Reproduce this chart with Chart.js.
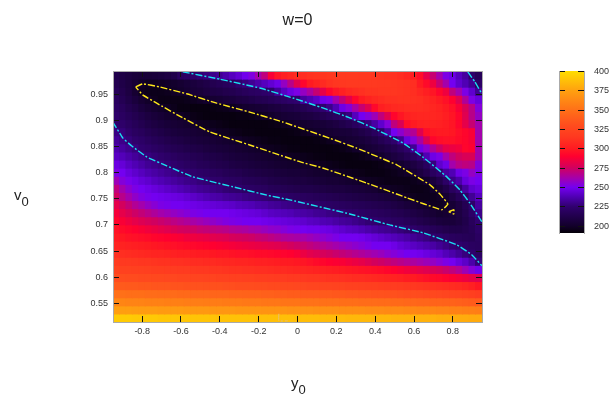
<!DOCTYPE html>
<html>
<head>
<meta charset="utf-8">
<style>
  html, body { margin: 0; padding: 0; background: #fff; }
  #wrap { position: relative; width: 610px; height: 399px; overflow: hidden; font-family: "Liberation Sans", Arial, sans-serif; color: #222; }
  #main { position: absolute; left: 0; top: 0; }
  #bar { position: absolute; left: 540px; top: 60px; }
  .axis-name { position: absolute; font-size: 15px; line-height: 16px; }
  .axis-name span { font-size: 13px; vertical-align: -6px; line-height: 0; }
</style>
<script src="https://cdn.jsdelivr.net/npm/chart.js@4"></script>
</head>
<body>
<div id="wrap">
  <canvas id="main" width="610" height="399"></canvas>
  <canvas id="bar" width="70" height="185"></canvas>
  <div class="axis-name" style="left:14px;top:187px">v<span>0</span></div>
  <div class="axis-name" style="left:291px;top:375px">y<span>0</span></div>
</div>
<script>
const y0Grid = [-0.9333,-0.9,-0.8667,-0.8333,-0.8,-0.7667,-0.7333,-0.7,-0.6667,-0.6333,
  -0.6,-0.5667,-0.5333,-0.5,-0.4667,-0.4333,-0.4,-0.3667,-0.3333,-0.3,
  -0.2667,-0.2333,-0.2,-0.1667,-0.1333,-0.1,-0.0667,-0.0333,0,0.0333,
  0.0667,0.1,0.1333,0.1667,0.2,0.2333,0.2667,0.3,0.3333,0.3667,
  0.4,0.4333,0.4667,0.5,0.5333,0.5667,0.6,0.6333,0.6667,0.7,
  0.7333,0.7667,0.8,0.8333,0.8667,0.9,0.9333];
const v0Grid = [0.9869,0.9714,0.9559,0.9404,0.9249,0.9094,0.8939,0.8784,0.8629,0.8474,
  0.8319,0.8164,0.8009,0.7854,0.7699,0.7544,0.7389,0.7234,0.7079,0.6924,
  0.6769,0.6614,0.6459,0.6304,0.6149,0.5994,0.5839,0.5684,0.5529,0.5374,0.5219];
const y0Ticks = [-0.8,-0.6,-0.4,-0.2,0,0.2,0.4,0.6,0.8];
const v0Ticks = [0.55,0.6,0.65,0.7,0.75,0.8,0.85,0.9,0.95];
const barTicks = [200,225,250,275,300,325,350,375,400];

// one row per v0, top to bottom, one value per y0, left to right
const costRows = [
  [212,210,208,206,205,205,206,207,209,212, 219,221,223,226,228,230,232,236,240,244, 249,253,262,270,288,298,303,306,309,310, 312,313,314,315,316,316,316,316,315,315, 314,313,312,311,309,306,302,295,282,272, 262,252,248,240,234,223,217],
  [214,211,208,204,200,198,198,199,200,201, 203,205,207,209,211,214,216,218,220,225, 228,232,236,240,244,248,258,268,280,292, 300,304,308,312,314,315,316,316,316,316, 316,315,315,314,313,312,310,300,294,285, 272,262,250,243,238,232,222],
  [217,213,209,203,198,196,196,196,197,199, 201,203,205,206,208,210,211,213,214,216, 218,220,221,223,225,233,241,247,252,258, 264,272,282,292,298,303,307,309,311,313, 313,314,314,314,313,312,310,306,302,298, 292,285,270,262,252,243,232],
  [219,215,211,207,203,200,197,195,195,195, 195,196,197,199,201,203,204,206,207,209, 210,212,214,215,217,219,221,223,225,234, 238,242,249,252,262,271,281,292,300,304, 307,309,311,311,312,312,311,310,307,304, 300,296,290,280,265,252,246],
  [221,218,214,211,207,204,202,200,198,196, 194,194,193,193,193,194,195,196,198,200, 202,203,204,205,207,208,210,211,213,215, 218,221,225,230,238,248,254,263,272,280, 293,302,305,307,308,309,309,309,308,306, 304,300,296,288,278,268,254],
  [223,220,217,214,211,208,206,204,202,201, 199,197,195,194,193,193,193,193,193,194, 194,195,197,199,201,203,204,205,206,208, 209,211,214,217,220,223,228,240,250,254, 260,270,280,292,298,303,305,306,306,306, 305,302,298,292,280,268,258],
  [225,223,220,217,214,211,209,207,205,204, 203,202,201,198,197,196,195,194,193,193, 193,193,193,193,194,195,197,199,201,202, 203,204,205,207,209,212,215,219,223,228, 235,243,254,270,278,295,300,303,304,304, 303,301,298,292,282,272,262],
  [229,227,223,220,218,215,213,211,209,207, 206,205,204,203,202,200,198,197,196,195, 194,194,193,193,193,193,193,194,195,197, 199,201,202,203,204,205,206,208,211,214, 219,225,235,250,256,262,266,280,295,299, 300,300,299,295,292,288,262],
  [233,230,227,224,222,219,217,215,213,211, 210,208,207,206,205,204,203,202,201,200, 198,197,196,195,194,194,193,193,193,193, 193,194,195,197,200,202,203,204,206,208, 211,215,219,224,232,246,254,263,278,292, 295,296,296,294,292,288,262],
  [237,234,231,228,225,223,221,219,217,215, 214,212,211,210,208,207,206,205,204,203, 202,201,200,198,197,196,195,194,194,193, 193,193,193,193,194,195,197,200,202,204, 206,208,211,214,218,223,232,248,256,266, 274,282,284,286,292,290,262],
  [241,239,236,233,230,228,226,224,222,220, 218,217,215,214,212,211,210,208,207,206, 205,204,203,202,201,200,200,198,197,196, 195,194,194,193,193,193,193,194,195,197, 200,202,205,208,211,215,219,225,238,248, 252,262,270,275,278,278,262],
  [247,245,241,238,235,232,230,228,226,224, 222,220,219,217,216,214,213,212,210,209, 208,207,206,205,204,203,202,201,201,200, 200,198,197,196,195,194,193,193,193,193, 194,195,197,199,202,205,209,213,219,228, 243,248,262,268,270,268,254],
  [252,250,246,243,240,237,235,233,231,229, 227,225,224,222,221,219,218,216,215,214, 212,211,210,209,208,207,206,205,205,204, 203,202,202,201,200,198,197,196,195,194, 194,194,195,196,198,200,204,208,213,219, 225,234,238,248,252,258,252],
  [260,254,251,248,245,243,240,238,236,234, 232,230,229,227,226,224,223,221,220,219, 217,216,215,214,212,211,210,209,208,208, 207,206,205,204,204,203,202,201,199,198, 197,196,195,195,195,195,196,198,202,207, 213,222,230,236,246,252,250],
  [270,262,256,252,250,248,246,244,242,240, 238,236,234,232,231,229,228,226,225,224, 222,221,220,219,217,216,215,214,213,212, 212,211,210,209,208,208,207,206,205,204, 203,200,199,198,197,196,195,195,196,200, 205,211,219,225,234,243,246],
  [275,268,262,257,253,251,250,249,248,247, 246,244,242,240,238,236,235,233,232,231, 229,228,227,226,225,224,222,221,220,219, 218,217,216,215,214,213,212,211,210,209, 208,207,206,204,202,199,197,196,196,197, 199,203,210,216,223,232,240],
  [282,276,271,266,262,258,255,252,251,250, 250,249,248,247,246,245,244,243,242,240, 239,238,236,235,233,232,230,229,228,227, 225,224,222,221,220,219,218,217,216,215, 214,213,212,210,208,206,204,202,200,198, 198,200,204,209,215,223,234],
  [287,282,278,274,271,268,265,262,260,258, 256,254,252,251,250,250,250,250,249,248, 247,246,245,243,241,240,239,238,236,235, 234,232,231,229,228,226,224,223,221,220, 219,218,217,215,214,212,210,208,206,204, 202,203,205,209,214,222,230],
  [292,288,285,282,279,277,275,273,271,269, 267,265,263,261,259,257,255,253,252,251, 250,250,250,249,248,247,246,245,244,243, 241,240,238,237,235,233,232,230,228,226, 225,223,222,220,219,217,215,213,211,209, 207,206,206,208,212,218,225],
  [297,294,292,290,288,286,284,282,280,278, 276,275,274,272,271,270,269,268,266,265, 264,262,261,259,257,256,254,252,251,250, 249,249,248,247,245,243,241,240,238,236, 234,232,231,229,227,225,223,221,219,217, 215,213,212,212,214,217,222],
  [300,299,297,296,295,294,292,291,290,289, 288,286,285,284,283,281,280,279,277,276, 275,274,272,271,269,267,265,264,263,262, 260,258,256,254,252,250,250,250,249,247, 245,243,241,239,237,235,232,230,228,225, 223,221,219,218,217,216,220],
  [305,304,303,302,301,300,299,298,297,296, 295,294,293,292,291,290,289,288,287,286, 285,284,283,282,281,280,278,276,274,272, 270,268,266,264,262,260,258,256,254,252, 250,250,250,248,245,243,241,239,237,235, 232,229,226,224,222,220,219],
  [311,310,309,308,307,306,305,305,304,303, 302,302,301,300,300,299,298,298,297,296, 296,295,294,294,293,292,291,290,288,284, 281,279,277,275,273,271,269,267,265,263, 261,259,256,254,252,250,250,249,247,245, 243,239,236,232,228,224,221],
  [317,316,316,315,314,314,313,312,312,311, 311,310,309,309,308,308,307,306,306,305, 305,304,303,303,302,301,300,300,299,298, 296,294,292,290,289,288,286,284,282,279, 276,274,272,270,268,266,264,262,260,258, 255,252,250,246,242,236,227],
  [323,322,322,321,321,320,319,319,318,318, 317,317,316,315,315,314,314,313,312,312, 311,311,310,310,309,308,308,307,306,306, 305,304,303,302,301,300,299,298,297,296, 295,294,292,290,288,286,284,282,280,278, 276,273,270,266,260,254,249],
  [330,330,329,329,328,328,327,327,326,326, 325,325,324,324,323,323,322,322,321,321, 320,320,319,319,318,317,317,316,316,315, 314,314,313,312,312,311,310,309,309,308, 307,306,305,304,303,301,300,298,296,294, 293,291,289,287,285,282,280],
  [338,338,337,337,336,336,335,335,335,334, 334,333,333,333,332,332,332,331,331,330, 330,330,329,329,328,328,327,327,326,326, 325,325,324,324,323,323,322,322,321,320, 320,319,318,318,317,316,315,314,313,312, 311,310,309,308,306,303,299],
  [350,350,349,349,349,348,348,347,347,347, 346,346,345,345,345,344,344,344,343,343, 342,342,342,341,341,340,340,339,339,338, 338,338,337,337,336,336,335,335,334,334, 333,333,332,332,331,330,330,329,328,327, 326,325,324,323,322,320,318],
  [361,361,360,360,360,359,359,359,358,358, 358,357,357,357,356,356,356,355,355,355, 354,354,354,353,353,353,352,352,352,351, 351,351,350,350,350,349,349,349,348,348, 348,347,347,346,346,345,345,344,344,343, 343,342,342,341,340,339,338],
  [374,374,374,373,373,373,373,372,372,372, 372,371,371,371,371,370,370,370,370,369, 369,369,369,368,368,368,368,367,367,367, 367,366,366,366,366,365,365,365,365,364, 364,364,363,363,363,362,362,361,361,361, 360,360,359,359,358,358,357],
  [393,393,393,392,392,392,392,391,391,391, 391,391,390,390,390,390,389,389,389,389, 389,389,388,388,388,388,388,388,387,387, 387,387,386,386,386,386,385,385,385,385, 384,384,384,383,383,383,383,382,382,382, 381,381,381,380,380,379,379]
];

// contours, as [y0, v0]
const contourLow225 = [[-0.951,0.897],[-0.9,0.8665],[-0.853,0.851],[-0.776,0.83],[-0.673,0.813],[-0.539,0.792],[-0.333,0.773],[-0.158,0.757],[-0.04,0.748],[0.269,0.721],[0.475,0.7],[0.645,0.685],[0.82,0.662],[0.897,0.643],[0.949,0.622]];
const contourHigh225 = [[-0.591,0.993],[-0.4,0.979],[-0.194,0.962],[-0.024,0.943],[0.13,0.924],[0.269,0.905],[0.388,0.886],[0.542,0.857],[0.645,0.83],[0.769,0.792],[0.836,0.767],[0.887,0.742],[0.949,0.706]];
const contourCorner225 = [[0.877,0.993],[0.913,0.974],[0.949,0.951]];
const contourLoop200 = [[-0.833,0.964],[-0.797,0.97],[-0.709,0.964],[-0.57,0.951],[-0.416,0.933],[-0.246,0.916],[-0.076,0.897],[0.166,0.866],[0.305,0.847],[0.511,0.815],[0.681,0.777],[0.733,0.759],[0.774,0.74],[0.743,0.729],[0.563,0.752],[0.357,0.78],[0.13,0.809],[0.012,0.821],[-0.246,0.853],[-0.452,0.878],[-0.591,0.905],[-0.725,0.933],[-0.797,0.949],[-0.833,0.964]];
const contourTip200 = [[0.779,0.725],[0.805,0.729],[0.805,0.721],[0.779,0.725]];
const contourEdge400 = [[-0.096,0.53],[-0.096,0.5165],[-0.05,0.5165]];

const paletteValues = [191,200,225,238,250,262,275,290,300,315,330,350,375,400];
const paletteColors = ['#050008','#12002a','#30006e','#5000b4','#7400f0','#a400ac','#d00060','#ff0030','#ff1a22','#ff3820','#ff4c1e','#ff7018','#ffa010','#ffdc00'];

const v0Step = 0.0155;
const fontName = '"Liberation Sans", Arial, sans-serif';
const tickColor = '#111';
const frameColor = '#aaa';

function hexToRgb(hex) {
    return [1, 3, 5].map(i => parseInt(hex.slice(i, i + 2), 16));
}

function colorFor(value) {
    let i = 0;
    while (i < paletteValues.length - 2 && value > paletteValues[i + 1]) i++;
    const t = Math.min(1, Math.max(0, (value - paletteValues[i]) / (paletteValues[i + 1] - paletteValues[i])));
    const a = hexToRgb(paletteColors[i]);
    const b = hexToRgb(paletteColors[i + 1]);
    const c = a.map((v, k) => Math.round(v + (b[k] - v) * t));
    return `rgb(${c[0]},${c[1]},${c[2]})`;
}

function toPoints(list) {
    return list.map(p => ({ x: p[0], y: p[1] }));
}

function contourDataset(list, color, width) {
    return {
        type: 'line',
        data: toPoints(list),
        borderColor: color,
        borderWidth: width,
        borderDash: [7, 2, 2, 2],
        pointRadius: 0,
        fill: false,
        tension: 0.1,
        order: 0
    };
}

// the tick padding must not push the plot area in, the boxes are fixed by hand
function fixBox(s, side, size) {
    s[side] = size;
    s.paddingLeft = s.paddingRight = s.paddingTop = s.paddingBottom = 0;
}

const rowDatasets = costRows.map((row, r) => ({
    type: 'bar',
    data: row.map((v, c) => ({ x: y0Grid[c], y: [v0Grid[r] - v0Step / 2, v0Grid[r] + v0Step / 2] })),
    backgroundColor: row.map(colorFor),
    borderWidth: 0,
    inflateAmount: 0.5,
    barPercentage: 1,
    categoryPercentage: 1,
    grouped: false,
    order: 1
}));

const insideTicks = { drawOnChartArea: false, drawTicks: true, tickLength: -6, tickColor: tickColor, lineWidth: 1, z: 2, offset: false };
const frame = { display: true, color: frameColor, width: 1, z: 2 };
const tickFont = { family: fontName, size: 9 };

new Chart(document.getElementById('main'), {
    data: {
        datasets: rowDatasets.concat([
            contourDataset(contourLow225, '#19e0f0', 1.4),
            contourDataset(contourHigh225, '#19e0f0', 1.4),
            contourDataset(contourCorner225, '#19e0f0', 1.4),
            contourDataset(contourLoop200, '#ffe81a', 1.4),
            contourDataset(contourTip200, '#ffe81a', 1.4),
            contourDataset(contourEdge400, '#e8c070', 1)
        ])
    },
    options: {
        responsive: false,
        animation: false,
        layout: { padding: 0 },
        plugins: { legend: { display: false }, tooltip: { enabled: false } },
        scales: {
            x: {
                type: 'linear', position: 'bottom', min: -0.95, max: 0.95, offset: false,
                grid: insideTicks, border: frame,
                afterBuildTicks: s => { s.ticks = y0Ticks.map(value => ({ value })); },
                ticks: { font: tickFont, color: '#333', padding: 10, autoSkip: false, maxRotation: 0, callback: v => String(v) },
                afterFit: s => fixBox(s, 'height', 77)
            },
            x2: {
                type: 'linear', position: 'top', min: -0.95, max: 0.95,
                grid: insideTicks, border: frame,
                afterBuildTicks: s => { s.ticks = y0Ticks.map(value => ({ value })); },
                ticks: { display: false },
                title: { display: true, text: 'w=0', font: { family: fontName, size: 16 }, color: '#222', padding: { top: 11, bottom: 0 } },
                afterFit: s => fixBox(s, 'height', 71)
            },
            y: {
                type: 'linear', position: 'left', min: 0.5142, max: 0.9946,
                grid: insideTicks, border: frame,
                afterBuildTicks: s => { s.ticks = v0Ticks.map(value => ({ value })); },
                ticks: { font: tickFont, color: '#333', padding: 11, autoSkip: false, callback: v => String(v) },
                afterFit: s => fixBox(s, 'width', 113)
            },
            y2: {
                type: 'linear', position: 'right', min: 0.5142, max: 0.9946,
                grid: insideTicks, border: frame,
                afterBuildTicks: s => { s.ticks = v0Ticks.map(value => ({ value })); },
                ticks: { display: false },
                afterFit: s => fixBox(s, 'width', 128)
            }
        }
    }
});

new Chart(document.getElementById('bar'), {
    type: 'bar',
    data: {
        labels: [''],
        datasets: [{
            data: [[paletteValues[0], 400.5]],
            backgroundColor: ctx => {
                const area = ctx.chart.chartArea;
                const scale = ctx.chart.scales.y;
                if (!area || !scale) return '#000';
                const grad = ctx.chart.ctx.createLinearGradient(0, scale.getPixelForValue(191), 0, scale.getPixelForValue(400));
                paletteValues.forEach((v, i) => grad.addColorStop((v - 191) / (400 - 191), paletteColors[i]));
                return grad;
            },
            borderWidth: 0,
            barPercentage: 1,
            categoryPercentage: 1
        }]
    },
    options: {
        responsive: false,
        animation: false,
        layout: { padding: 0 },
        plugins: { legend: { display: false }, tooltip: { enabled: false } },
        scales: {
            x: {
                position: 'bottom',
                grid: { display: false },
                border: { display: false },
                ticks: { display: false },
                afterFit: s => fixBox(s, 'height', 12)
            },
            xTop: {
                axis: 'x', position: 'top', type: 'category', labels: [''],
                grid: { display: false },
                border: { display: false },
                ticks: { display: false },
                afterFit: s => fixBox(s, 'height', 11)
            },
            y: {
                type: 'linear', position: 'right', min: 191, max: 400.5,
                grid: { drawOnChartArea: false, drawTicks: true, tickLength: -6, tickColor: tickColor, z: 2 },
                border: frame,
                afterBuildTicks: s => { s.ticks = barTicks.map(value => ({ value })); },
                ticks: { font: tickFont, color: '#333', padding: 16, autoSkip: false, callback: v => String(v) },
                afterFit: s => fixBox(s, 'width', 26)
            },
            yLeft: {
                axis: 'y', type: 'linear', position: 'left', min: 191, max: 400.5,
                grid: { drawOnChartArea: false, drawTicks: true, tickLength: -6, tickColor: tickColor, z: 2 },
                border: frame,
                afterBuildTicks: s => { s.ticks = barTicks.map(value => ({ value })); },
                ticks: { display: false },
                afterFit: s => fixBox(s, 'width', 19)
            }
        }
    }
});
</script>
</body>
</html>
